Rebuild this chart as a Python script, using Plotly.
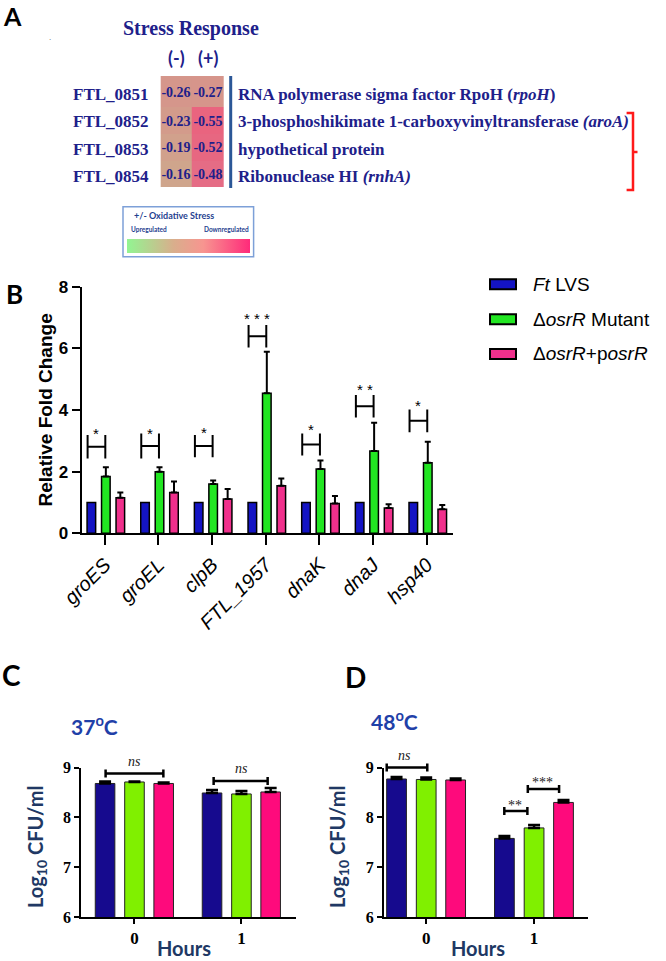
import plotly.graph_objects as go

W, H = 666, 961


def px(x):
    return x / W


def py(y):
    return 1 - y / H


SANS = "Liberation Sans, Arial, sans-serif"
SERIF = "Liberation Serif, Times New Roman, serif"
CAL = "Lato, Carlito, sans-serif"
NAVY = "#20208a"

# ---------------- Panel A data ----------------
gene_ids = ["FTL_0851", "FTL_0852", "FTL_0853", "FTL_0854"]
gene_desc = [
    "RNA polymerase sigma factor RpoH (<i>rpoH</i>)",
    "3-phosphoshikimate 1-carboxyvinyltransferase <i>(aroA)</i>",
    "hypothetical protein",
    "Ribonuclease HI <i>(rnhA)</i>",
]
stress_cols = ["(-)", "(+)"]
stress_minus = [-0.26, -0.23, -0.19, -0.16]
stress_plus = [-0.27, -0.55, -0.52, -0.48]

# ---------------- Panel B data ----------------
series_names = ["<i>Ft</i> LVS", "Δ<i>osrR</i> Mutant", "Δ<i>osrR</i>+p<i>osrR</i>"]
genes_b = ["groES", "groEL", "clpB", "FTL_1957", "dnaK", "dnaJ", "hsp40"]
lvs_b = [1.0, 1.0, 1.0, 1.0, 1.0, 1.0, 1.0]
mut_b = [1.84, 2.00, 1.60, 4.54, 2.09, 2.67, 2.29]
mut_err_b = [0.30, 0.14, 0.11, 1.35, 0.27, 0.92, 0.68]
comp_b = [1.15, 1.32, 1.11, 1.54, 0.97, 0.82, 0.78]
comp_err_b = [0.17, 0.36, 0.33, 0.24, 0.24, 0.12, 0.14]
sig_b = ["*", "*", "*", "* * *", "*", "* *", "*"]
h_low_b = [2.43, 2.43, 2.47, 6.03, 2.52, 3.76, 3.28]
h_high_b = [3.19, 3.24, 3.19, 6.76, 3.24, 4.49, 4.02]
star_y_b = [3.37, 3.37, 3.41, 7.11, 3.51, 4.81, 4.27]

# ---------------- Panels C / D data ----------------
hours = ["0", "1"]
c_lvs, c_lvs_err = [8.68, 8.49], [0.04, 0.06]
c_mut, c_mut_err = [8.71, 8.47], [0.01, 0.06]
c_comp, c_comp_err = [8.68, 8.51], [0.02, 0.08]
d_lvs, d_lvs_err = [8.77, 7.58], [0.04, 0.05]
d_mut, d_mut_err = [8.76, 7.79], [0.04, 0.06]
d_comp, d_comp_err = [8.75, 8.30], [0.03, 0.05]
# comparisons: (x_start, x_end, y, label, label_x)
c_brackets = [(-0.27, 0.27, 8.88, "ns", 0.0), (0.74, 1.245, 8.73, "ns", 1.0)]
d_brackets = [(-0.366, 0.01, 9.0, "ns", -0.2),
              (0.724, 0.938, 8.13, "**", 0.82),
              (0.942, 1.232, 8.57, "***", 1.08)]
cfu_range = [6, 9]

fig = go.Figure()

# ===== Panel A =====
fig.add_trace(go.Heatmap(
    z=[[m, p] for m, p in zip(stress_minus, stress_plus)],
    x=[160.7, 191.7, 223.3], y=[76, 107.3, 134, 160.7, 187.3],
    xaxis="x4", yaxis="y4",
    colorscale=[[0, "#e9647f"], [0.25, "#e46f87"], [0.7, "#d6948b"], [1, "#cfa58c"]],
    zmin=-0.55, zmax=-0.16, showscale=False,
    texttemplate="<b>%{z:.2f}</b>",
    textfont=dict(family=SERIF, size=14, color=NAVY),
    hoverinfo="skip",
))
# colour key (+/- oxidative stress)
fig.add_trace(go.Heatmap(
    z=[[0, 1]], x=[-300, -200], y=[-300], xaxis="x4", yaxis="y4",
    colorscale=[[0, "#92f592"], [0.38, "#d9ae8c"], [0.62, "#f79590"], [1, "#ff2a7a"]],
    showscale=True, hoverinfo="skip",
    colorbar=dict(orientation="h", x=px(127.4), xanchor="left", y=py(253.3), yanchor="bottom",
                  len=123, lenmode="pixels", thickness=14, thicknessmode="pixels",
                  xpad=0, ypad=0, showticklabels=False, ticks="", outlinewidth=0),
))

ann = []
shapes = []


def pann(x, y, text, font, xanchor="center", **kw):
    """annotation placed in figure pixel coordinates"""
    d = dict(x=px(x), y=py(y), xref="paper", yref="paper", text=text, showarrow=False,
             xanchor=xanchor, yanchor="middle", font=font)
    d.update(kw)
    ann.append(d)


ann.append(dict(x=191, y=28, xref="x4", yref="y4", text="<b>Stress Response</b>", showarrow=False,
                xanchor="center", yanchor="middle", font=dict(family=SERIF, size=20, color=NAVY)))
for j, c in enumerate(stress_cols):
    ann.append(dict(x=176.2 + 31.6 * j, y=58, xref="x4", yref="y4", text="<b>%s</b>" % c, showarrow=False,
                    xanchor="center", yanchor="middle", font=dict(family=CAL, size=18, color=NAVY)))
for i, (g, d) in enumerate(zip(gene_ids, gene_desc)):
    yy = 94 + 27.5 * i
    ann.append(dict(x=70.7, y=yy, xref="x4", yref="y4", text="<b>%s</b>" % g, showarrow=False,
                    xanchor="left", yanchor="middle", font=dict(family=SERIF, size=17, color=NAVY)))
    ann.append(dict(x=236, y=yy, xref="x4", yref="y4", text="<b>%s</b>" % d, showarrow=False,
                    xanchor="left", yanchor="middle", font=dict(family=SERIF, size=17, color=NAVY)))
shapes.append(dict(type="line", xref="x4", yref="y4", x0=230.7, x1=230.7, y0=76, y1=188,
                   line=dict(color="#2b5797", width=3)))
shapes.append(dict(type="path", xref="x4", yref="y4",
                   path="M 626.6 113 L 633 113 L 633 190 L 626.6 190 M 633 152 L 637.5 152",
                   line=dict(color="#ff1a1a", width=2.5)))
shapes.append(dict(type="rect", xref="x4", yref="y4", x0=123, x1=253.6, y0=206.7, y1=256.7,
                   line=dict(color="#7da0d8", width=1.5)))
ann.append(dict(x=131.7, y=215, xref="x4", yref="y4", text="<b>+/- Oxidative Stress</b>", showarrow=False,
                xanchor="left", yanchor="middle", font=dict(family=CAL, size=9, color="#1f3f8f")))
ann.append(dict(x=129.3, y=229, xref="x4", yref="y4", text="<b>Upregulated</b>", showarrow=False,
                xanchor="left", yanchor="middle", font=dict(family=CAL, size=6.5, color="#1f3f8f")))
ann.append(dict(x=250.6, y=229, xref="x4", yref="y4", text="<b>Downregulated</b>", showarrow=False,
                xanchor="right", yanchor="middle", font=dict(family=CAL, size=6.5, color="#1f3f8f")))
ann.append(dict(x=50, y=37, xref="x4", yref="y4", text=".", showarrow=False,
                xanchor="center", yanchor="middle", font=dict(family=SANS, size=8, color="#555555")))

# ===== Panel B =====
colors_b = ["#1414c4", "#22e622", "#f0308c"]
offsets_b = [-0.25, 0.02, 0.29]
vals_b = [lvs_b, mut_b, comp_b]
errs_b = [None, mut_err_b, comp_err_b]
n_b = len(genes_b)
for k in range(3):
    eb = None
    if errs_b[k] is not None:
        eb = dict(type="data", symmetric=False, array=errs_b[k], arrayminus=[0] * n_b,
                  color="black", thickness=2, width=3)
    fig.add_trace(go.Bar(
        x=[i + offsets_b[k] for i in range(n_b)], y=vals_b[k], width=0.16,
        marker=dict(color=colors_b[k], line=dict(color="black", width=1.5)),
        error_y=eb, xaxis="x", yaxis="y", showlegend=False, name=series_names[k], hoverinfo="skip",
    ))
# H-shaped comparison marks
for i in range(n_b):
    xl, xr = i - 0.32, i + 0.01
    lo, hi = h_low_b[i], h_high_b[i]
    mid = (lo + hi) / 2
    shapes.append(dict(type="path", xref="x", yref="y",
                       path="M %g %g L %g %g M %g %g L %g %g M %g %g L %g %g" % (
                           xl, lo, xl, hi, xr, lo, xr, hi, xl, mid, xr, mid),
                       line=dict(color="black", width=2)))
    ann.append(dict(x=i - 0.155, y=star_y_b[i], xref="x", yref="y", text=sig_b[i], showarrow=False,
                    xanchor="center", yanchor="middle",
                    yshift=-4, font=dict(family=SANS, size=15, color="black")))

# legend for B
for k, name in enumerate(series_names):
    cy = 284.3 + 34.85 * k
    shapes.append(dict(type="rect", xref="paper", yref="paper", x0=px(490), x1=px(516),
                       y0=py(cy + 5), y1=py(cy - 5), fillcolor=colors_b[k],
                       line=dict(color="black", width=2)))
    pann(531, cy, name, dict(family=SANS, size=19, color="black"), xanchor="left")

pann(44.5, 410, "<b>Relative Fold Change</b>", dict(family=SANS, size=19, color="black"), textangle=-90)

# ===== Panels C and D =====
colors_cd = ["#160a8e", "#80f000", "#fe0a7c"]
offsets_cd = [-0.275, 0.0, 0.273]
panels = [
    ("x2", "y2", [c_lvs, c_mut, c_comp], [c_lvs_err, c_mut_err, c_comp_err], c_brackets),
    ("x3", "y3", [d_lvs, d_mut, d_comp], [d_lvs_err, d_mut_err, d_comp_err], d_brackets),
]
cap = 0.08
lab_shift = {"ns": 12, "**": 5, "***": 6.5}


def dom(v):
    return (v - cfu_range[0]) / (cfu_range[1] - cfu_range[0])


for xa, ya, vals, errs, brs in panels:
    for k in range(3):
        fig.add_trace(go.Bar(
            x=[i + offsets_cd[k] for i in range(len(hours))], y=vals[k], width=0.183,
            marker=dict(color=colors_cd[k], line=dict(color="#222222", width=1)),
            error_y=dict(type="data", symmetric=False, array=errs[k], arrayminus=[0] * len(hours),
                         color="black", thickness=2.5, width=6),
            xaxis=xa, yaxis=ya, showlegend=False, hoverinfo="skip",
        ))
    for (x0, x1, yv, lab, lx) in brs:
        shapes.append(dict(type="path", xref=xa, yref=ya + " domain",
                           path="M %g %g L %g %g M %g %g L %g %g M %g %g L %g %g" % (
                               x0, dom(yv - cap), x0, dom(yv + cap), x1, dom(yv - cap), x1, dom(yv + cap),
                               x0, dom(yv), x1, dom(yv)),
                           line=dict(color="black", width=2.5)))
        ann.append(dict(x=lx, y=yv, xref=xa, yref=ya, yshift=lab_shift[lab],
                        xanchor="center", yanchor="middle",
                        text=("<i>%s</i>" % lab) if lab == "ns" else lab,
                        showarrow=False, font=dict(family=SERIF, size=14, color="#222222")))

TITLE_BLUE = "#203864"
for cx in (36, 338):
    pann(cx, 847, "<b>Log<sub>10</sub> CFU/ml</b>", dict(family=CAL, size=20, color=TITLE_BLUE), textangle=-90)
for cx in (183.5, 478):
    pann(cx, 948, "<b>Hours</b>", dict(family=CAL, size=20, color=TITLE_BLUE))
pann(94.5, 724.5, "<b>37<sup>o</sup>C</b>", dict(family=CAL, size=21, color="#1f40a8"))
pann(394.5, 719.5, "<b>48<sup>o</sup>C</b>", dict(family=CAL, size=21, color="#1f40a8"))

# panel letters
for lab, (lx, ly, sz) in {"A": (12, 16, 25), "B": (14, 294, 26), "C": (11, 675, 28), "D": (355, 677, 28)}.items():
    pann(lx, ly, "<b>%s</b>" % lab, dict(family=CAL, size=sz, color="black"))

axis_common = dict(showgrid=False, zeroline=False, showline=True, linecolor="black", ticks="outside",
                   tickcolor="black", automargin=False)

fig.update_layout(
    width=W, height=H, margin=dict(l=0, r=0, t=0, b=0, autoexpand=False),
    paper_bgcolor="white", plot_bgcolor="rgba(0,0,0,0)",
    barmode="overlay", showlegend=False,
    annotations=ann, shapes=shapes,
    xaxis=dict(domain=[px(81.7), px(453)], range=[-0.43, 6.49], anchor="y",
               tickvals=list(range(n_b)), ticktext=["<i>%s</i>" % g for g in genes_b],
               tickangle=-45, ticklen=10, tickwidth=2, linewidth=2,
               tickfont=dict(family=SANS, size=20, color="black"), **axis_common),
    yaxis=dict(domain=[py(533.3), py(286.7)], range=[0, 8], dtick=2, anchor="x",
               ticklen=8, tickwidth=2, linewidth=2,
               tickfont=dict(family=SANS, size=17, color="black", weight="bold"), **axis_common),
    xaxis2=dict(domain=[px(81), px(296)], range=[-0.5, 1.51], anchor="y2",
                tickvals=[0, 1], ticktext=hours, ticklen=5, tickwidth=1.5, linewidth=1.5,
                tickfont=dict(family=SERIF, size=17, color="black", weight="bold"), **axis_common),
    yaxis2=dict(domain=[py(917.3), py(767.5)], range=cfu_range, dtick=1, anchor="x2",
                ticklen=5, tickwidth=1.5, linewidth=1.5,
                tickfont=dict(family=SERIF, size=16, color="black", weight="bold"), **axis_common),
    xaxis3=dict(domain=[px(383.7), px(588)], range=[-0.394, 1.50], anchor="y3",
                tickvals=[0, 1], ticktext=hours, ticklen=5, tickwidth=1.5, linewidth=1.5,
                tickfont=dict(family=SERIF, size=17, color="black", weight="bold"), **axis_common),
    yaxis3=dict(domain=[py(917.3), py(767.5)], range=cfu_range, dtick=1, anchor="x3",
                ticklen=5, tickwidth=1.5, linewidth=1.5,
                tickfont=dict(family=SERIF, size=16, color="black", weight="bold"), **axis_common),
    xaxis4=dict(domain=[0, 1], range=[0, W], anchor="y4", visible=False, fixedrange=True),
    yaxis4=dict(domain=[py(265), 1], range=[265, 0], anchor="x4", visible=False, fixedrange=True),
)

# remove the browser's default page margin so the figure sits at the window's top-left corner
fig.write_html("out.html", config={"displayModeBar": False},
               post_script="document.body.style.margin='0px';")
